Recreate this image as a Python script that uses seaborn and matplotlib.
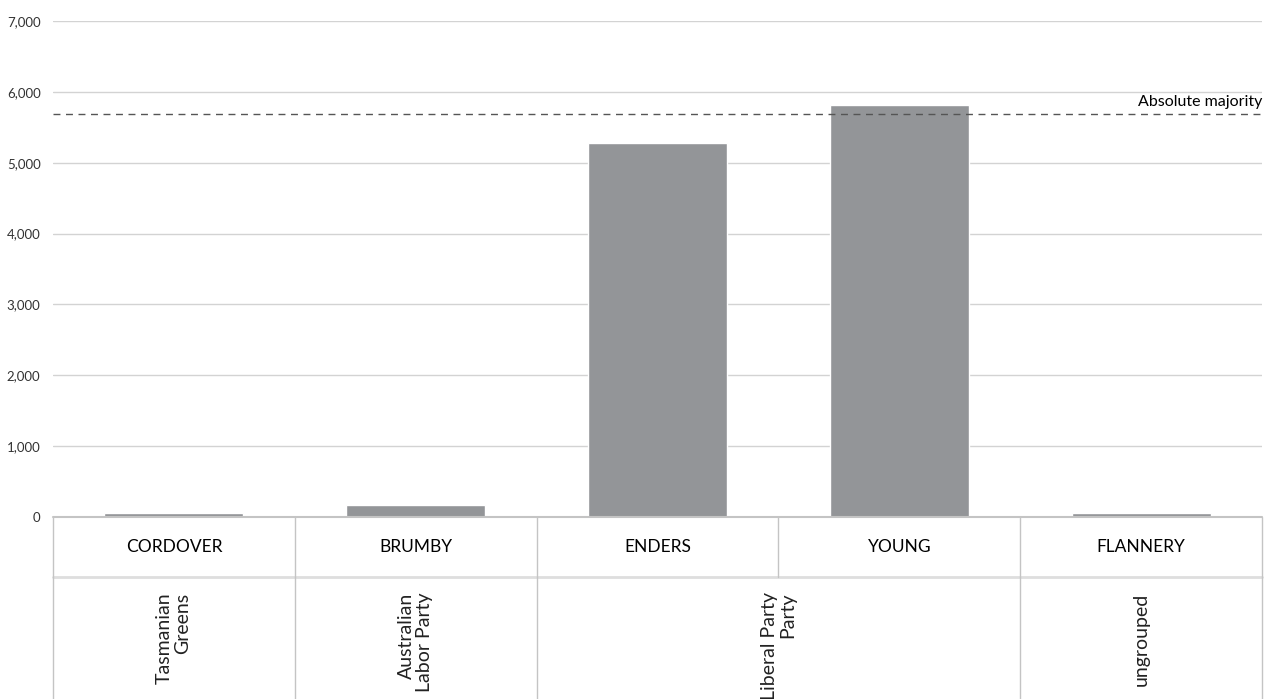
import itertools
import pandas as pd
import matplotlib
matplotlib.use("Agg")
import matplotlib.pyplot as plt
from matplotlib.ticker import FuncFormatter
import seaborn as sns

# values
candidates = ["CORDOVER", "BRUMBY", "ENDERS", "YOUNG", "FLANNERY"]
votes = [50, 164, 5281, 5809, 63]
parties = ["Tasmanian\nGreens", "Australian\nLabor Party", "Liberal Party\nParty",
           "Liberal Party\nParty", "ungrouped"]
majority = 5682
y_ticks = [0, 1000, 2000, 3000, 4000, 5000, 6000, 7000]

sns.set_style("white")
plt.rcParams["font.family"] = ["Lato", "DejaVu Sans"]

df = pd.DataFrame({"candidate": candidates, "votes": votes})

W, H = 1265, 699
fig = plt.figure(figsize=(W / 100, H / 100), dpi=100)
left, right = 53 / W, 1262 / W
top, bottom = 1 - 21 / H, 1 - 517 / H
ax = fig.add_axes([left, bottom, right - left, top - bottom])

sns.barplot(data=df, x="candidate", y="votes", color="#939598", saturation=1,
            width=0.575, ax=ax, zorder=2)
ax.set_xlim(-0.5, len(candidates) - 0.5)
ax.set_ylim(0, y_ticks[-1])
ax.set_yticks(y_ticks)
ax.yaxis.set_major_formatter(FuncFormatter(lambda v, p: f"{int(v):,}"))
ax.tick_params(axis="y", length=0, pad=9, labelsize=9.5, labelcolor="#333333")
ax.set_xticks([])
ax.set_xlabel("")
ax.set_ylabel("")
ax.grid(axis="y", color="#d3d3d3", lw=1, zorder=0)
for s in ["top", "left", "right", "bottom"]:
    ax.spines[s].set_visible(False)

ax.axhline(majority, ls=(0, (5, 4)), color="#555555", lw=1, zorder=3)
ax.annotate("Absolute majority", xy=(1.0, majority), xycoords=("axes fraction", "data"),
            xytext=(0, 4), textcoords="offset points", ha="right", va="bottom",
            fontsize=11.5, color="#000000")

# table under the bars
tab = fig.add_axes([left, 0, right - left, bottom])
tab.set_xlim(-0.5, len(candidates) - 0.5)
tab.set_ylim(1, 0)
tab.axis("off")
line_c = "#c4c4c4"
split = 60 / 182
n = len(candidates)
tab.plot([-0.5, n - 0.5], [0, 0], color=line_c, lw=1.5, clip_on=False)
tab.plot([-0.5, n - 0.5], [split, split], color="#dedede", lw=2, clip_on=False)
for xb in [-0.5, n - 0.5]:
    tab.plot([xb, xb], [0, 1], color=line_c, lw=1, clip_on=False)
for i in range(1, n):
    tab.plot([i - 0.5, i - 0.5], [0, split], color=line_c, lw=1)
for i, name in enumerate(candidates):
    tab.text(i, split / 2, name, ha="center", va="center", fontsize=12.5, color="#000000")

pos = 0
for party, grp in itertools.groupby(parties):
    k = len(list(grp))
    start, end = pos, pos + k
    if end < n:
        tab.plot([end - 0.5, end - 0.5], [split, 1], color=line_c, lw=1)
    tab.text((start + end - 1) / 2, split + 0.085, party, rotation=90, ha="center",
             va="top", multialignment="right", fontsize=14, color="#222222",
             linespacing=1.1)
    pos = end

fig.savefig("out.png", dpi=100)
